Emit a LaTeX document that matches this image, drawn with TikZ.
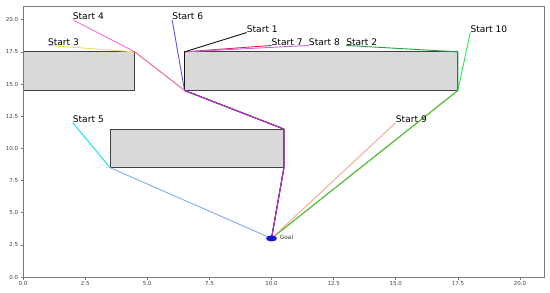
\documentclass[tikz,border=0pt]{standalone}
\usepackage{fontspec}
\setmainfont{DejaVu Sans}
\definecolor{cObst} {RGB}{217, 217, 217}
\definecolor{cEdge} {RGB}{ 64,  64,  64}
\definecolor{cSpine}{RGB}{120, 120, 120}
\definecolor{cGoal} {RGB}{ 20,  20, 215}
\definecolor{cSa}   {RGB}{ 20,  20,  20}
\definecolor{cSb}   {RGB}{ 30, 160,  60}
\definecolor{cSc}   {RGB}{245, 225,  70}
\definecolor{cSd}   {RGB}{240,  60, 210}
\definecolor{cSe}   {RGB}{  0, 230, 235}
\definecolor{cSeb}  {RGB}{125, 170, 240}
\definecolor{cSf}   {RGB}{ 45,  45, 215}
\definecolor{cSg}   {RGB}{230,  30,  80}
\definecolor{cSh}   {RGB}{200, 100, 220}
\definecolor{cSi}   {RGB}{245, 165, 145}
\definecolor{cSj}   {RGB}{ 40, 230,  80}
\definecolor{cSjb}  {RGB}{ 95, 195,  45}
\tikzset{
  spine/.style   = {draw=cSpine, line width=0.8pt},
  tickm/.style   = {draw=cSpine, line width=0.6pt},
  ticklbl/.style = {font=\fontsize{5.5}{6}\selectfont, text=black!75, inner sep=2pt},
  obst/.style    = {fill=cObst, draw=cEdge, line width=0.9pt},
  P/.style       = {line width=0.9pt, line join=round},
  lbl/.style     = {font=\fontsize{9.1}{10}\selectfont, anchor=base west, inner sep=0pt},
  goallbl/.style = {font=\fontsize{5.8}{6}\selectfont, anchor=west, inner sep=0pt, text=black!80},
}
\begin{document}
\begin{tikzpicture}[x=24.85pt, y=12.865pt]

%% Layout: 1 data unit = 24.85pt (x), 12.865pt (y); axes 0..21 both ways
\useasboundingbox (-0.9256,-1.166) rectangle (21.207,21.531);

%% ─── axes ────────────────────────────────────────────────────────
\foreach \v/\t in {0/0.0, 2.5/2.5, 5/5.0, 7.5/7.5, 10/10.0,
                   12.5/12.5, 15/15.0, 17.5/17.5, 20/20.0} {
  \draw[tickm] (\v,0) -- ++(0,-2.5pt) node[below, ticklbl] {\t};
  \draw[tickm] (0,\v) -- ++(-2.5pt,0) node[left, ticklbl] {\t};
}

%% ─── obstacles ───────────────────────────────────────────────────
\coordinate (oA1) at (0,14.5);   \coordinate (oA2) at (4.5,17.5);
\coordinate (oB1) at (6.5,14.5); \coordinate (oB2) at (17.5,17.5);
\coordinate (oC1) at (3.5,8.5);  \coordinate (oC2) at (10.5,11.5);

\draw[obst] (oA1) rectangle (oA2);
\draw[obst] (oB1) rectangle (oB2);
\draw[obst] (oC1) rectangle (oC2);

%% ─── waypoints (obstacle corners) ────────────────────────────────
\coordinate (wE) at (4.5,17.5);
\coordinate (wA) at (6.5,17.5);
\coordinate (wB) at (6.5,14.5);
\coordinate (wC) at (10.5,11.5);
\coordinate (wD) at (10.5,8.5);
\coordinate (wK) at (3.5,8.5);
\coordinate (wF) at (17.5,17.5);
\coordinate (wH) at (17.5,14.5);
\coordinate (goal) at (10,3);

%% ─── starts ──────────────────────────────────────────────────────
\coordinate (s1)  at (9,19);
\coordinate (s2)  at (13,18);
\coordinate (s3)  at (1,18);
\coordinate (s4)  at (2,20);
\coordinate (s5)  at (2,12);
\coordinate (s6)  at (6,20);
\coordinate (s7)  at (10,18);
\coordinate (s8)  at (11.5,18);
\coordinate (s9)  at (15,12);
\coordinate (s10) at (18,19);

%% ─── paths ───────────────────────────────────────────────────────
\draw[P, cSc]  (s3) -- (wE) -- (wB) -- (wC) -- (wD) -- (goal);
\draw[P, cSg]  (s7) -- (wA) -- (wB) -- (wC) -- (wD) -- (goal);
\draw[P, cSh]  (s8) -- (wA) -- (wB) -- (wC) -- (wD) -- (goal);
\draw[P, cSa]  (s1) -- (wA) -- (wB) -- (wC) -- (wD) -- (goal);
\draw[P, cSb]  (s2) -- (wF) -- (wH) -- (goal);
\draw[P, cSj]  (s10) -- (wH);
\draw[P, cSjb] (wH) -- (goal);
\draw[P, cSi]  (s9) -- (goal);
\draw[P, cSe]  (s5) -- (wK);
\draw[P, cSeb] (wK) -- (goal);
\draw[P, cSf, opacity=0.8]  (s6) -- (wB) -- (wC) -- (wD) -- (goal);
\draw[P, cSd, opacity=0.75] (s4) -- (wE) -- (wB) -- (wC) -- (wD) -- (goal);

%% ─── goal marker ─────────────────────────────────────────────────
\fill[cGoal] (goal) ellipse [x radius=5.5pt, y radius=3pt];
\node[goallbl] (gl) at (10.33,3.05) {Goal};

%% ─── start labels ────────────────────────────────────────────────
\node[lbl] (t1)  at (s1)  {Start 1};
\node[lbl] (t2)  at (s2)  {Start 2};
\node[lbl] (t3)  at (s3)  {Start 3};
\node[lbl] (t4)  at (s4)  {Start 4};
\node[lbl] (t5)  at (s5)  {Start 5};
\node[lbl] (t6)  at (s6)  {Start 6};
\node[lbl] (t7)  at (s7)  {Start 7};
\node[lbl] (t8)  at (s8)  {Start 8};
\node[lbl] (t9)  at (s9)  {Start 9};
\node[lbl] (t10) at (s10) {Start 10};

%% ─── frame ───────────────────────────────────────────────────────
\draw[spine] (0,0) rectangle (21,21);

\end{tikzpicture}
\end{document}
